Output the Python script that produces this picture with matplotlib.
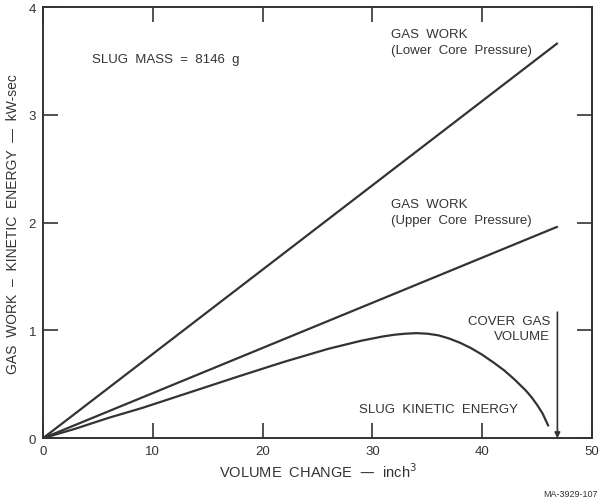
import numpy as np
import matplotlib
matplotlib.use("Agg")
from matplotlib import pyplot as plt

plt.rcParams['font.family'] = ['Liberation Sans', 'DejaVu Sans']

ink = '#333333'

# gas work lines (straight from origin to end of stroke)
vol_gas = [0.0, 46.8]
work_lower = [0.0, 3.66]
work_upper = [0.0, 1.96]

# slug kinetic energy curve
vol_ke = [0, 3, 6, 9, 12, 15, 18, 20, 22, 24, 26, 27, 28, 29, 30, 31, 32, 33, 34, 35,
          36, 37, 38, 39, 40, 41, 42, 43, 44, 44.5, 45, 45.5, 46.0]
ke = [0, 0.09, 0.19, 0.28, 0.38, 0.48, 0.58, 0.645, 0.71, 0.77, 0.83, 0.855, 0.88, 0.905,
      0.925, 0.945, 0.96, 0.97, 0.975, 0.97, 0.955, 0.925, 0.885, 0.835, 0.775, 0.705, 0.63,
      0.54, 0.44, 0.38, 0.31, 0.23, 0.12]

cover_gas_vol = 46.85
cover_gas_top = 1.17

fig = plt.figure(figsize=(6.01, 5.02), dpi=100)
ax = fig.add_axes([0.0715, 0.125, 0.9135, 0.859])

ax.plot(vol_gas, work_lower, color=ink, lw=1.6)
ax.plot(vol_gas, work_upper, color=ink, lw=1.6)
ax.plot(vol_ke, ke, color=ink, lw=1.6)

ax.annotate('', xy=(cover_gas_vol, 0), xytext=(cover_gas_vol, cover_gas_top),
            arrowprops=dict(arrowstyle='-|>', color=ink, lw=1.2,
                            mutation_scale=8, shrinkA=0, shrinkB=0))

ax.set_xlim(0, 50)
ax.set_ylim(0, 4)
ax.set_xticks([0, 10, 20, 30, 40, 50])
ax.set_yticks([0, 1, 2, 3, 4])
ax.tick_params(direction='in', length=11, width=1.2, color=ink,
               top=True, right=True, labelsize=9.5, labelcolor=ink)
ax.tick_params(axis='x', pad=5)
ax.tick_params(axis='y', pad=5)
for s in ax.spines.values():
    s.set_linewidth(1.4)
    s.set_color(ink)

ax.set_xlabel('VOLUME  CHANGE  —  inch$^3$', fontsize=10.5, color=ink, labelpad=3)
ax.set_ylabel('GAS  WORK  –  KINETIC  ENERGY  —  kW-sec', fontsize=10, color=ink, labelpad=6)

txt = dict(fontsize=9.5, color=ink)
ax.text(4.5, 3.52, 'SLUG  MASS  =  8146  g', va='center', ha='left', **txt)
ax.text(31.7, 3.68, 'GAS  WORK\n(Lower  Core  Pressure)', va='center', ha='left', linespacing=1.45, **txt)
ax.text(31.7, 2.10, 'GAS  WORK\n(Upper  Core  Pressure)', va='center', ha='left', linespacing=1.45, **txt)
ax.text(46.2, 1.02, 'COVER  GAS\nVOLUME', va='center', ha='right', linespacing=1.35, **txt)
ax.text(28.8, 0.27, 'SLUG  KINETIC  ENERGY', va='center', ha='left', **txt)

fig.text(0.995, 0.014, 'MA-3929-107', ha='right', va='center', fontsize=6.5, color=ink)

fig.savefig('out.png', dpi=100)
